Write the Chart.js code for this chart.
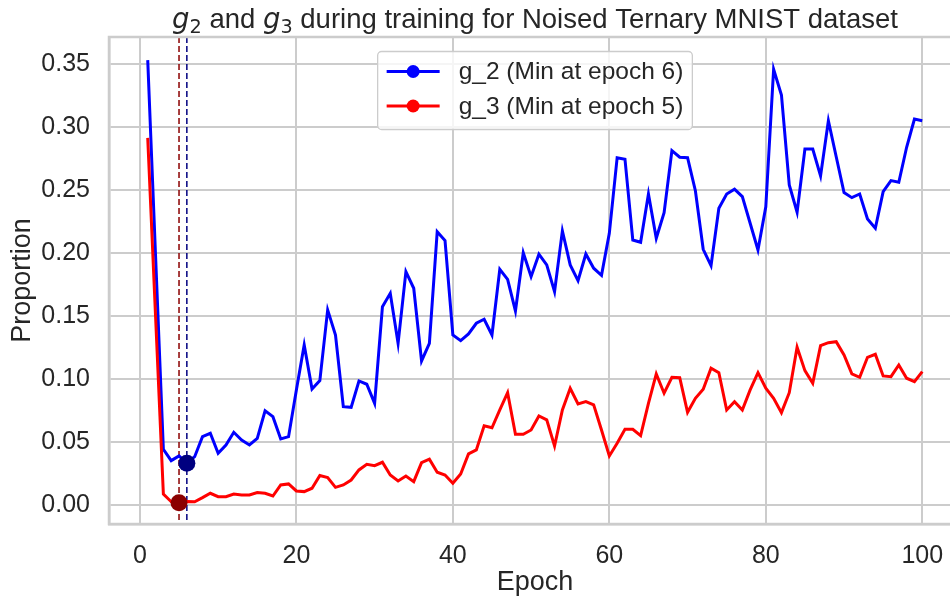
<!DOCTYPE html>
<html>
<head>
<meta charset="utf-8">
<script src="https://cdn.jsdelivr.net/npm/chart.js@4.4.0/dist/chart.umd.min.js"></script>
<style>
  html, body { margin: 0; padding: 0; overflow: hidden; background: #ffffff; }
  canvas { display: block; }
</style>
</head>
<body>
<canvas id="chart-g" width="961" height="599"></canvas>
<script>
// ----- DATA ----- //
// ---------------- //

// g_2 proportion per epoch (epochs 1..100)
const g2_values = [
  0.353, 0.198, 0.0442, 0.0352, 0.0389, 0.0331, 0.0383, 0.0542, 0.0569, 0.0410,
  0.0476, 0.0577, 0.0516, 0.0476, 0.0529, 0.0748, 0.0701, 0.0524, 0.0542, 0.0913,
  0.1270, 0.0921, 0.0987, 0.1548, 0.1349, 0.0780, 0.0775, 0.0984, 0.0958, 0.0807,
  0.1574, 0.1680, 0.1283, 0.1852, 0.1720, 0.1143, 0.1283, 0.2169, 0.2098, 0.1349,
  0.1304, 0.1357, 0.1442, 0.1474, 0.1349, 0.1871, 0.1791, 0.1540, 0.2002, 0.1812,
  0.1990, 0.1905, 0.1693, 0.2175, 0.1905, 0.1780, 0.1992, 0.1879, 0.1823, 0.2156,
  0.2756, 0.2744, 0.2103, 0.2085, 0.2468, 0.2117, 0.2320, 0.2812, 0.2760, 0.2756,
  0.2494, 0.2029, 0.1899, 0.2355, 0.2468, 0.2506, 0.2447, 0.2236, 0.2024, 0.2367,
  0.3458, 0.3254, 0.2540, 0.2323, 0.2825, 0.2825, 0.2611, 0.3050, 0.2764, 0.2479,
  0.2439, 0.2468, 0.2270, 0.2196, 0.2487, 0.2574, 0.2561, 0.2839, 0.3063, 0.3050
];

// g_3 proportion per epoch (epochs 1..100)
const g3_values = [
  0.2913, 0.150, 0.0087, 0.0026, 0.0018, 0.0027, 0.0025, 0.0058, 0.0093, 0.0066,
  0.0066, 0.0087, 0.0079, 0.0079, 0.0098, 0.0093, 0.0071, 0.0159, 0.0167, 0.0111,
  0.0106, 0.0133, 0.0234, 0.0218, 0.0140, 0.0159, 0.0198, 0.0278, 0.0323, 0.0312,
  0.0339, 0.0238, 0.0190, 0.0230, 0.0185, 0.0336, 0.0363, 0.0260, 0.0238, 0.0172,
  0.0246, 0.0405, 0.0437, 0.0629, 0.0613, 0.0754, 0.0891, 0.0561, 0.0561, 0.0595,
  0.0706, 0.0675, 0.0468, 0.0754, 0.0926, 0.0802, 0.0820, 0.0794, 0.0595, 0.0389,
  0.0490, 0.0601, 0.0601, 0.0550, 0.0807, 0.1040, 0.0887, 0.1013, 0.1010, 0.0736,
  0.0847, 0.0918, 0.1085, 0.1050, 0.0754, 0.0820, 0.0754, 0.0913, 0.1050, 0.0926,
  0.0847, 0.0733, 0.0891, 0.1252, 0.1066, 0.0966, 0.1264, 0.1288, 0.1296, 0.1190,
  0.1040, 0.1013, 0.1172, 0.1196, 0.1024, 0.1018, 0.1111, 0.1006, 0.0979, 0.1058
];

// Axis ticks
const x_ticks = [0, 20, 40, 60, 80, 100];
const y_ticks = [0, 0.05, 0.10, 0.15, 0.20, 0.25, 0.30, 0.35];

const FONT = "'Liberation Sans', Arial, sans-serif";
const MATH_FONT = "'DejaVu Sans', sans-serif";
const TEXT_COLOR = '#262626';
const GRID_COLOR = '#cccccc';


// ----- HELPERS ----- //
// ------------------- //

// Epoch numbers start at 1
function toPoints(values) {
  return values.map((v, i) => ({x: i + 1, y: v}));
}

function argMin(values) {
  let best = 0;
  for (let i = 1; i < values.length; i++) {
    if (values[i] < values[best]) best = i;
  }
  return best;
}

const g2_min = argMin(g2_values);
const g3_min = argMin(g3_values);
const g2_label = 'g_2 (Min at epoch ' + (g2_min + 1) + ')';
const g3_label = 'g_3 (Min at epoch ' + (g3_min + 1) + ')';


// ----- PLUGINS ----- //
// ------------------- //

// Full frame round the plot area (top/right spines)
const framePlugin = {
  id: 'frame',
  afterDraw(chart) {
    const {ctx, chartArea} = chart;
    ctx.save();
    ctx.strokeStyle = GRID_COLOR;
    ctx.lineWidth = 2.5;
    ctx.strokeRect(chartArea.left, chartArea.top, chartArea.right - chartArea.left, chartArea.bottom - chartArea.top);
    ctx.restore();
  }
};

// Dashed vertical lines at the minimum epochs
const minLinesPlugin = {
  id: 'minLines',
  beforeDatasetsDraw(chart) {
    const {ctx, chartArea, scales} = chart;
    const lines = [
      {epoch: g3_min + 1, color: '#8b0000'},
      {epoch: g2_min + 1, color: '#000080'}
    ];
    ctx.save();
    ctx.lineWidth = 1.5;
    ctx.setLineDash([6, 3]);
    for (const line of lines) {
      const x = scales.x.getPixelForValue(line.epoch);
      ctx.strokeStyle = line.color;
      ctx.beginPath();
      ctx.moveTo(x, chartArea.top);
      ctx.lineTo(x, chartArea.bottom);
      ctx.stroke();
    }
    ctx.restore();
  }
};

// Legend box with line + marker handles
const legendBoxPlugin = {
  id: 'legendBox',
  afterDraw(chart) {
    const {ctx, chartArea} = chart;
    const entries = chart.data.datasets.filter(d => d.inLegend);
    ctx.save();
    ctx.font = '24.5px ' + FONT;
    let text_w = 0;
    for (const e of entries) text_w = Math.max(text_w, ctx.measureText(e.label).width);
    const handle_w = 53, gap = 19, pad = 9, row_h = 34.5;
    const box_w = pad + handle_w + gap + text_w + pad;
    const box_h = 78;
    const left = (chartArea.left + chartArea.right) / 2 - box_w / 2;
    const top = chartArea.top + 14.5;

    ctx.beginPath();
    ctx.roundRect(left, top, box_w, box_h, 4);
    ctx.fillStyle = 'rgba(255,255,255,0.8)';
    ctx.fill();
    ctx.strokeStyle = GRID_COLOR;
    ctx.lineWidth = 1.3;
    ctx.stroke();

    entries.forEach((e, i) => {
      const y = top + 20 + i * row_h;
      ctx.strokeStyle = e.borderColor;
      ctx.lineWidth = 3;
      ctx.beginPath();
      ctx.moveTo(left + pad, y);
      ctx.lineTo(left + pad + handle_w, y);
      ctx.stroke();
      ctx.fillStyle = e.borderColor;
      ctx.beginPath();
      ctx.arc(left + pad + handle_w / 2, y, 6.5, 0, Math.PI * 2);
      ctx.fill();
      ctx.fillStyle = TEXT_COLOR;
      ctx.textBaseline = 'middle';
      ctx.textAlign = 'left';
      ctx.fillText(e.label, left + pad + handle_w + gap, y + 1);
    });
    ctx.restore();
  }
};

// Title with italic g and subscripts, plus axis titles
const textPlugin = {
  id: 'texts',
  afterDraw(chart) {
    const {ctx, chartArea} = chart;
    const size = 27;
    const title_size = 27.5;
    const parts = [
      {t: 'g', math: true},
      {t: '2', math: true, sub: true},
      {t: ' and '},
      {t: 'g', math: true},
      {t: '3', math: true, sub: true},
      {t: ' during training for Noised Ternary MNIST dataset'}
    ];
    const fontOf = p => {
      if (p.sub) return (title_size * 0.7) + 'px ' + MATH_FONT;
      if (p.math) return 'italic ' + title_size + 'px ' + MATH_FONT;
      return title_size + 'px ' + FONT;
    };
    ctx.save();
    ctx.fillStyle = TEXT_COLOR;
    ctx.textBaseline = 'alphabetic';
    ctx.textAlign = 'left';
    let total = 0;
    for (const p of parts) {
      ctx.font = fontOf(p);
      p.w = ctx.measureText(p.t).width;
      total += p.w;
    }
    let x = (chartArea.left + chartArea.right) / 2 - total / 2;
    const base = 28;
    for (const p of parts) {
      ctx.font = fontOf(p);
      ctx.fillText(p.t, x, p.sub ? base + 5 : base);
      x += p.w;
    }

    // Axis titles
    ctx.font = size + 'px ' + FONT;
    ctx.textAlign = 'center';
    ctx.textBaseline = 'middle';
    ctx.fillText('Epoch', (chartArea.left + chartArea.right) / 2, 583);
    ctx.translate(23, (chartArea.top + chartArea.bottom) / 2);
    ctx.rotate(-Math.PI / 2);
    ctx.fillText('Proportion', 0, 0);
    ctx.restore();
  }
};


// ----- CREATE CHART ----- //
// ------------------------ //

function chartGByEpoch() {
  Chart.defaults.font.family = FONT;
  Chart.defaults.color = TEXT_COLOR;

  new Chart(document.getElementById('chart-g').getContext('2d'), {
    type: 'line',
    data: {
      datasets: [
        {
          label: g2_label,
          inLegend: true,
          data: toPoints(g2_values),
          borderColor: '#0000ff',
          borderWidth: 3,
          pointRadius: 0,
          order: 3
        },
        {
          label: g3_label,
          inLegend: true,
          data: toPoints(g3_values),
          borderColor: '#ff0000',
          borderWidth: 3,
          pointRadius: 0,
          order: 2
        },
        {
          label: 'g_2 min',
          data: [{x: g2_min + 1, y: g2_values[g2_min]}],
          showLine: false,
          pointRadius: 8.5,
          pointBorderWidth: 0,
          pointBackgroundColor: '#000080',
          borderColor: '#000080',
          order: 0
        },
        {
          label: 'g_3 min',
          data: [{x: g3_min + 1, y: g3_values[g3_min]}],
          showLine: false,
          pointRadius: 8.5,
          pointBorderWidth: 0,
          pointBackgroundColor: '#8b0000',
          borderColor: '#8b0000',
          order: 0
        }
      ]
    },
    options: {
      responsive: false,
      animation: false,
      layout: {autoPadding: false, padding: {top: 37, left: 0, right: 0, bottom: 0}},
      plugins: {
        legend: {display: false},
        tooltip: {enabled: false},
        title: {display: false}
      },
      scales: {
        x: {
          type: 'linear',
          min: -3.95,
          max: 104.95,
          afterBuildTicks: scale => { scale.ticks = x_ticks.map(v => ({value: v})); },
          afterFit: scale => {
            scale.height = 75;
            scale.paddingLeft = 0;
            scale.paddingRight = 0;
          },
          grid: {color: GRID_COLOR, lineWidth: 2, drawTicks: false},
          border: {color: GRID_COLOR, width: 2.5},
          ticks: {padding: 17, font: {size: 25}, color: TEXT_COLOR, maxRotation: 0, callback: v => String(v)}
        },
        y: {
          type: 'linear',
          min: -0.0151,
          max: 0.3714,
          afterBuildTicks: scale => { scale.ticks = y_ticks.map(v => ({value: v})); },
          afterFit: scale => {
            scale.width = 109;
            scale.paddingTop = 0;
            scale.paddingBottom = 0;
          },
          grid: {color: GRID_COLOR, lineWidth: 2, drawTicks: false},
          border: {color: GRID_COLOR, width: 2.5},
          ticks: {padding: 19, font: {size: 25}, color: TEXT_COLOR, callback: v => v.toFixed(2)}
        }
      }
    },
    plugins: [minLinesPlugin, framePlugin, legendBoxPlugin, textPlugin]
  });
}

chartGByEpoch()
</script>
</body>
</html>
